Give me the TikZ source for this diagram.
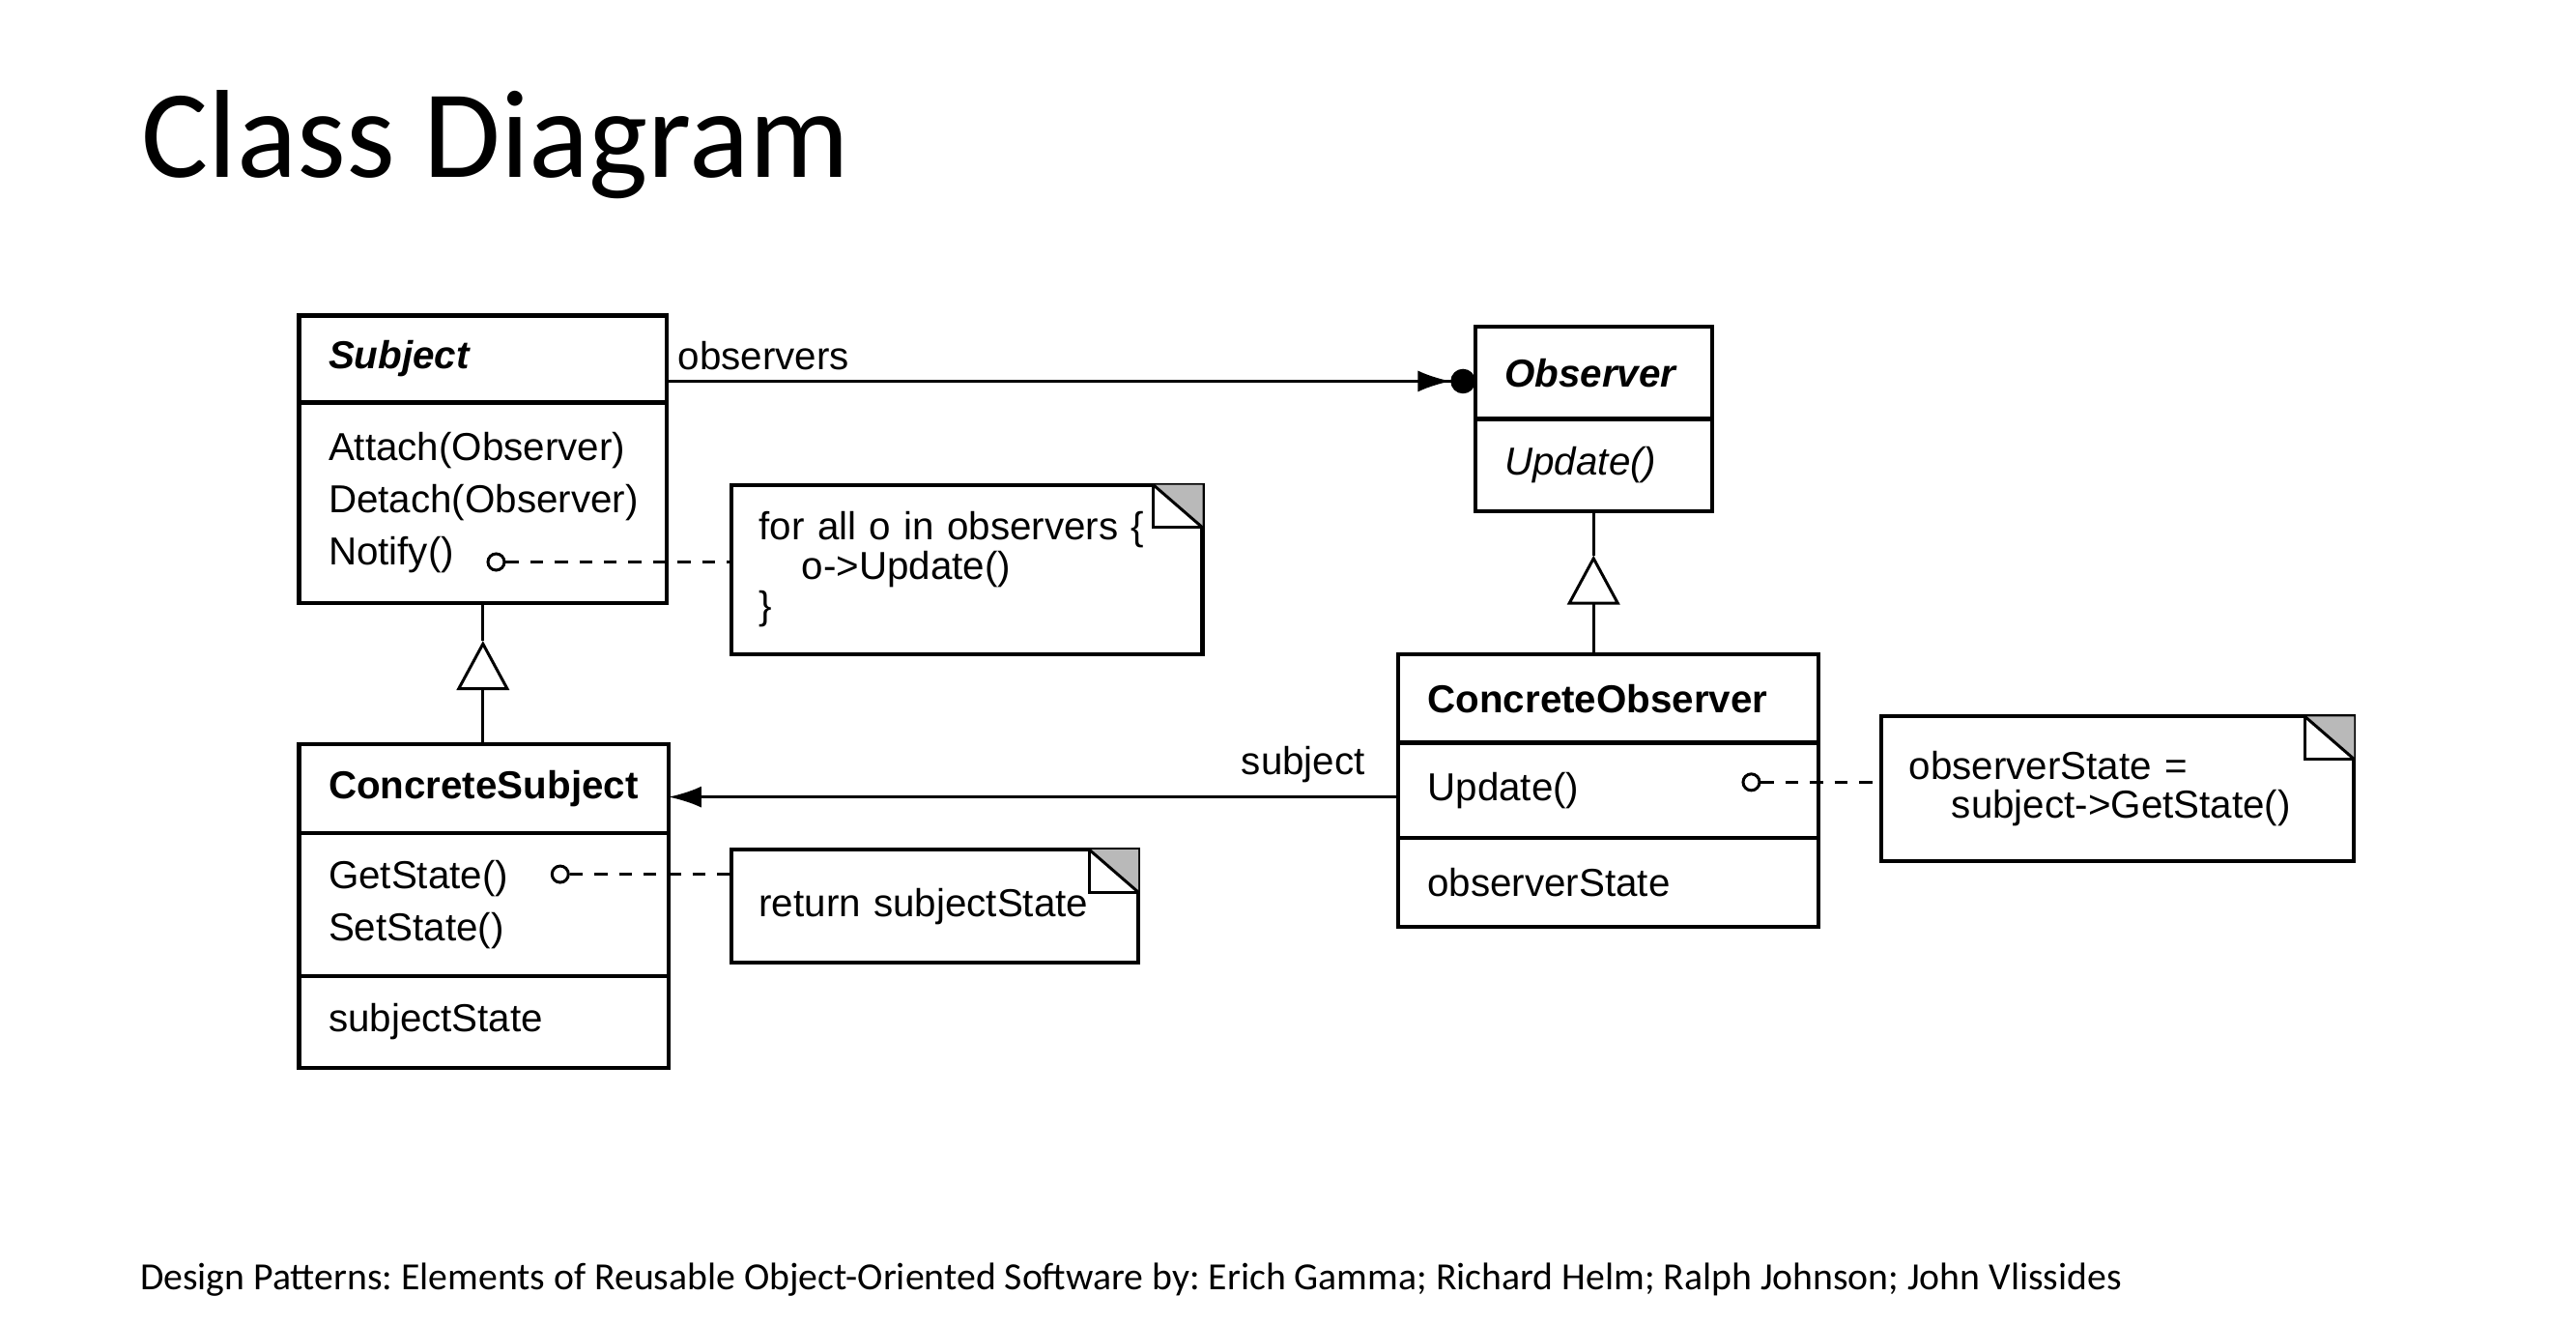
\documentclass[tikz,border=0pt]{standalone}
\usepackage{fontspec}
\setmainfont{Liberation Sans}
\newfontfamily\calibri{Carlito}
\usetikzlibrary{arrows.meta}
\frenchspacing

\begin{document}
\begin{tikzpicture}[
            x = 0.02cm, y = -0.02cm,
            box/.style={draw, line width=1.4pt, outer sep=0pt, anchor=north west, inner xsep=0.36cm, inner ysep=0pt, align=left, font=\fontsize{13.5}{18}\selectfont},
            head/.style={box, font=\fontsize{13.5}{18}\selectfont\bfseries},
            abstract/.style={box, font=\fontsize{13.5}{18}\selectfont\bfseries\itshape},
            note/.style={draw, line width=1.4pt, outer sep=0pt, anchor=north west, inner xsep=0.34cm, inner ysep=0pt, align=left, font=\fontsize{13.5}{13.6}\selectfont},
            label/.style={font=\fontsize{13.5}{13.6}\selectfont},
            line/.style={line width=1pt},
            dot/.style={circle, draw, line width=1pt, inner sep=0pt, minimum size=0.2cm},
            link/.style={line, dash pattern=on 4.5pt off 4pt},
            inherit/.style={line, -{Triangle[open, length=0.6cm, width=0.64cm, line width=1pt]}},
            ]

        \useasboundingbox (0,0) rectangle (1568,806);

        \node[anchor=base west, inner sep=0pt, font=\calibri\fontsize{43.4}{43.4}\selectfont] (title) at (86,108) {Class Diagram};

        \node[abstract, text width=3.76cm, minimum height=1.06cm] (subject) at (182,192) {Subject};
        \node[box, text width=3.76cm, minimum height=2.44cm] (subjectops) at (subject.south west) {Attach(Observer)\\Detach(Observer)\\Notify()};

        \node[abstract, text width=2.16cm, minimum height=1.12cm] (observer) at (898,199) {Observer};
        \node[box, font=\fontsize{13.5}{18}\selectfont\itshape, text width=2.16cm, minimum height=1.12cm] (observerops) at (observer.south west) {Update()};

        \node[head, text width=4.40cm, minimum height=1.08cm] (cobserver) at (851,398) {ConcreteObserver};
        \node[box, text width=4.40cm, minimum height=1.16cm] (cobserverops) at (cobserver.south west) {Update()};
        \node[box, text width=4.40cm, minimum height=1.08cm] (cobserverstate) at (cobserverops.south west) {observerState};

        \node[head, text width=3.78cm, minimum height=1.08cm] (csubject) at (182,453) {ConcreteSubject};
        \node[box, text width=3.78cm, minimum height=1.74cm] (csubjectops) at (csubject.south west) {GetState()\\SetState()};
        \node[box, text width=3.78cm, minimum height=1.12cm] (csubjectstate) at (csubjectops.south west) {subjectState};

        \node[note, text width=5.06cm, minimum height=2.06cm] (notify) at (445,295) {for all o in observers \{\\\hspace{0.52cm}o->Update()\\\}};
        \node[note, text width=4.28cm, minimum height=1.38cm] (getnote) at (445,517) {return subjectState};
        \node[note, text width=5.08cm, minimum height=1.76cm] (updatenote) at (1145,436) {observerState =\\\hspace{0.52cm}subject->GetState()};

        \foreach \n in {notify, getnote, updatenote} {
            \fill[gray!55] (\n.north east) -- ++(-30,0) -- ++(30,26) -- cycle;
            \draw[line] (\n.north east) ++(-30,0) -- ++(0,26) -- ++(30,0);
            \draw[line] (\n.north east) ++(-30,0) -- ++(30,26);
        }

        \node[dot] (notifydot) at (302,342) {};
        \node[dot] (getdot) at (341,532) {};
        \node[dot] (updatedot) at (1066,476) {};

        \draw[link] (notifydot) -- (notifydot -| notify.west);
        \draw[link] (getdot) -- (getdot -| getnote.west);
        \draw[link] (updatedot) -- (updatedot -| updatenote.west);

        \draw[line, -{Latex[length=0.4cm, width=0.26cm] Circle[length=0.3cm]}] ([yshift=-0.27cm]subject.east) node[label, above right] {observers} -- ([yshift=-0.27cm]subject.east -| observer.west);
        \draw[line, -{Latex[length=0.4cm, width=0.26cm]}] ([yshift=-0.08cm]cobserverops.west) -- ([yshift=-0.08cm]cobserverops.west -| csubject.east) node[label, pos=0.13, above=1pt] {subject};

        \coordinate (subjectapex) at ([yshift=-0.46cm]subjectops.south);
        \draw[line] (subjectops.south) -- (subjectapex);
        \draw[inherit] (subjectapex |- csubject.north) -- (subjectapex);

        \coordinate (observerapex) at ([yshift=-0.54cm]observerops.south);
        \draw[line] (observerops.south) -- (observerapex);
        \draw[inherit] (observerapex |- cobserver.north) -- (observerapex);

        \node[anchor=base west, inner sep=0pt, font=\calibri\fontsize{13.3}{13.3}\selectfont] (credit) at (85,785) {Design Patterns: Elements of Reusable Object-Oriented Software by: Erich Gamma; Richard Helm; Ralph Johnson; John Vlissides};
    \end{tikzpicture}
\end{document}
